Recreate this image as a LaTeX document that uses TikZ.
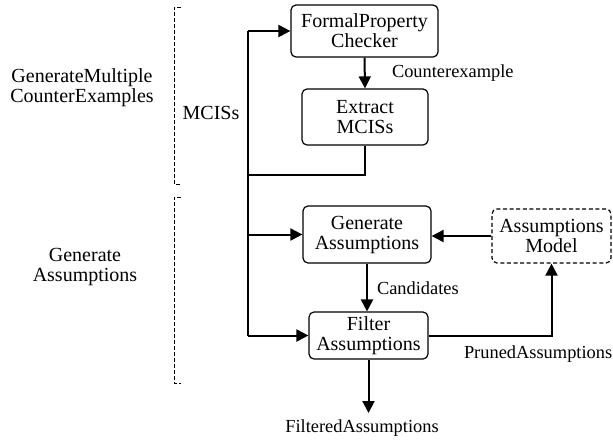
\documentclass[tikz,border=0pt]{standalone}
\usepackage{fontspec}
\setmainfont{Liberation Serif}
\usetikzlibrary{arrows.meta}
\begin{document}
\begin{tikzpicture}[x=0.5pt,y=-0.5pt,
  line width=1pt,
  procbox/.style={draw, line width=0.6pt, rounded corners=2.5pt, align=center, inner sep=0pt,
    font=\fontsize{10}{10}\selectfont},
  modelbox/.style={procbox, dash pattern=on 2pt off 1.3pt},
  flow/.style={-{Triangle[length=6pt,width=6pt]}},
  lbl/.style={font=\fontsize{9.2}{9.2}\selectfont, inner sep=0pt},
  side/.style={align=center, inner sep=0pt, font=\fontsize{10}{10}\selectfont},
  phase/.style={line width=0.5pt, dash pattern=on 2pt off 1pt}]
\useasboundingbox (0,0) rectangle (613,441);

% processing steps
\node[procbox, minimum width=73.5pt, minimum height=26pt] (fpc) at (364.5,31) {FormalProperty\\Checker};
\node[procbox, minimum width=63pt, minimum height=28pt] (ext) at (365,117) {Extract\\MCISs};
\node[procbox, minimum width=64pt, minimum height=28.5pt] (gen) at (367,234.5) {Generate\\Assumptions};
\node[modelbox, minimum width=59.5pt, minimum height=27pt] (am) at (551.5,236) {Assumptions\\Model};
\node[procbox, minimum width=59.5pt, minimum height=23.5pt] (flt) at (368.5,335.5) {Filter\\Assumptions};

% MCIS feedback bus
\coordinate (btop) at (248,31);
\coordinate (bjoin) at (248,175);
\coordinate (bmid) at (248,234.5);
\coordinate (bbot) at (248,335.5);
\coordinate (out) at (368.5,413);

\draw (btop) -- (bbot);
\draw[flow] (btop) -- (fpc.west);
\draw[flow] (bmid) -- (gen.west);
\draw[flow] (bbot) -- (flt.west);
\draw (ext.south) |- (bjoin);

\draw[flow] (fpc.south) -- (ext.north);
\draw[flow] (am.west) -- (gen.east |- am.west);
\draw[flow] (gen.south) -- (flt.north -| gen.south);
\draw[flow] (flt.east) -| (am.south);
\draw[flow] (flt.south) -- (out);

% connector labels
\node[lbl, anchor=west] (lce) at (391,73) {Counterexample};
\node[lbl, anchor=west] (lca) at (376,288) {Candidates};
\node[lbl, anchor=west] (lpa) at (463,354) {PrunedAssumptions};
\node[lbl] (lfa) at (362,428) {FilteredAssumptions};
\node[side] (lmc) at (211,113) {MCISs};

% phase brackets
\draw[phase] (181,7) -- (174,7) -- (174,184) -- (181,184);
\draw[phase] (181,197) -- (174,197) -- (174,383) -- (181,383);
\node[side] (p1) at (82,88) {GenerateMultiple\\CounterExamples};
\node[side] (p2) at (85,267) {Generate\\Assumptions};
\end{tikzpicture}
\end{document}
